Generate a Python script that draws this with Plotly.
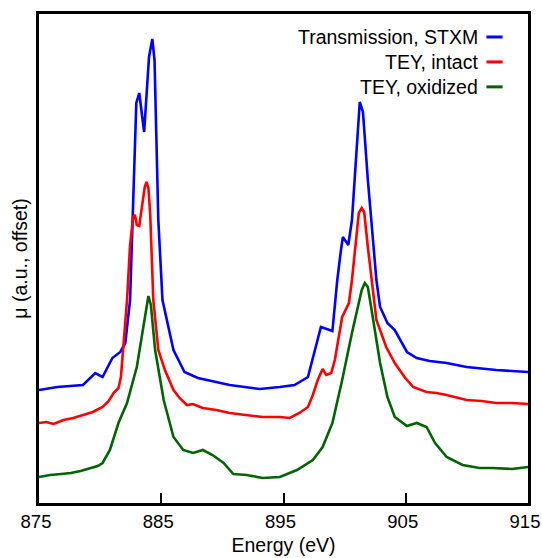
import plotly.graph_objects as go

# ---- data (energy in eV, intensity in a.u. with offsets) ----
stxm_E = [875.0, 876.5, 878.6, 879.6, 880.2, 881.0, 881.65, 882.06, 882.45, 882.7,
          882.96, 883.2, 883.6, 884.0, 884.27, 884.45, 884.76, 885.1, 886.0, 886.9,
          888.0, 890.6, 893.05, 894.7, 895.9, 897.0, 898.06, 899.0, 899.4, 899.7,
          899.86, 900.3, 900.6, 901.24, 901.5, 901.9, 902.6, 902.9, 903.5, 904.1,
          905.1, 905.9, 906.96, 908.35, 909.98, 912.4, 915.0]
stxm_px = [390, 387, 385, 373, 377, 358, 352, 343, 300, 213,
           103, 93, 132, 57, 39, 60, 220, 300, 350, 372,
           378, 385, 389, 387, 385, 377, 327, 331, 280, 250,
           237, 245, 220, 102, 112, 180, 280, 307, 323, 330,
           352, 358, 361, 363, 367, 370, 372]

intact_E = [875.0, 875.6, 876.2, 877.0, 877.8, 878.6, 879.4, 880.2, 880.7, 881.1,
            881.5, 881.7, 881.9, 882.2, 882.45, 882.7, 882.85, 883.0, 883.2, 883.45,
            883.65, 883.8, 883.95, 884.1, 884.35, 884.76, 885.3, 886.0, 886.5, 887.1,
            887.6, 888.4, 889.5, 890.6, 892.0, 893.3, 894.7, 895.5, 896.3, 897.0,
            897.4, 897.8, 898.2, 898.5, 898.9, 899.2, 899.8, 900.35, 900.6, 901.16,
            901.4, 901.6, 901.9, 902.2, 902.6, 903.4, 904.1, 904.9, 905.6, 906.7,
            907.5, 908.35, 909.98, 911.2, 912.4, 913.7, 915.0]
intact_px = [423, 422, 424, 420, 418, 415, 412, 407, 401, 393,
             388, 377, 343, 300, 245, 217, 215, 225, 226, 205,
             187, 182, 188, 215, 300, 350, 370, 390, 398, 405,
             404, 408, 410, 413, 415, 417, 417, 418, 413, 407,
             395, 380, 369, 375, 373, 360, 317, 303, 280, 213,
             208, 212, 247, 280, 320, 347, 363, 377, 387, 392,
             393, 395, 400, 401, 403, 403, 404]

oxid_E = [875.0, 875.9, 876.8, 877.6, 878.4, 879.2, 879.8, 880.2, 880.8, 881.5,
          882.2, 883.0, 883.65, 883.95, 884.15, 884.5, 885.2, 886.0, 886.8, 887.6,
          888.4, 889.2, 890.1, 890.9, 892.0, 893.3, 894.7, 896.1, 897.4, 898.2,
          899.0, 899.8, 900.6, 901.4, 901.65, 901.9, 902.3, 902.9, 903.5, 904.1,
          905.1, 905.9, 906.7, 907.4, 908.35, 909.65, 911.04, 912.1, 913.7, 915.0]
oxid_px = [477, 475, 474, 473, 471, 468, 466, 463, 450, 423,
           403, 367, 317, 296, 305, 350, 400, 437, 450, 453,
           450, 455, 463, 474, 475, 478, 477, 470, 460, 447,
           423, 380, 333, 290, 283, 287, 317, 363, 397, 417,
           426, 423, 427, 443, 457, 465, 468, 468, 469, 467]

names = ["Transmission, STXM", "TEY, intact", "TEY, oxidized"]
colors = ["#0000ff", "#ff0000", "#006400"]
x_ticks = [875, 885, 895, 905, 915]


def to_au(px):
    return [(503 - p) / 100.0 for p in px]


series = [(stxm_E, stxm_px), (intact_E, intact_px), (oxid_E, oxid_px)]

FONT = "Liberation Sans, Arial, sans-serif"
FS = 19.5

fig = go.Figure()
for (e, p), n, c in zip(series, names, colors):
    fig.add_trace(go.Scatter(x=e, y=to_au(p), mode="lines", name=n,
                             line=dict(color=c, width=2.6), showlegend=False,
                             hoverinfo="skip"))

# manual legend: text right-aligned, line sample to the right
leg_y = [0.953, 0.902, 0.851]
for n, c, yy in zip(names, colors, leg_y):
    fig.add_annotation(x=0.901, y=yy, xref="paper", yref="paper", text=n,
                       showarrow=False, xanchor="right", yanchor="middle",
                       font=dict(family=FONT, size=FS, color="black"))
    fig.add_shape(type="line", xref="paper", yref="paper",
                  x0=0.915, x1=0.948, y0=yy, y1=yy,
                  line=dict(color=c, width=3))

fig.update_layout(
    width=542, height=558,
    margin=dict(l=38.5, r=13.5, t=14, b=55),
    paper_bgcolor="white", plot_bgcolor="white",
    font=dict(family=FONT, size=FS, color="black"),
)
fig.update_xaxes(range=[875, 915], tickvals=x_ticks, ticktext=[str(v) for v in x_ticks],
                 ticks="inside", ticklen=10, tickwidth=2, tickcolor="black",
                 ticklabeloverflow="allow", automargin=False, ticklabelshift=-3,
                 showline=True, linewidth=2.5, linecolor="black", mirror=True,
                 showgrid=False, zeroline=False,
                 title=dict(text="Energy (eV)", standoff=8,
                            font=dict(family=FONT, size=FS)),
                 tickfont=dict(family=FONT, size=18.5))
fig.update_yaxes(range=[0, 4.89], showticklabels=False, ticks="", automargin=False,
                 showline=True, linewidth=2.5, linecolor="black", mirror=True,
                 showgrid=False, zeroline=False,
                 title=dict(text="μ (a.u., offset)", standoff=4,
                            font=dict(family=FONT, size=FS)))

# remove the default 8px body margin so the figure fills the window exactly
fig.write_html("out.html",
               config={"displayModeBar": False},
               post_script="document.body.style.margin='0';document.body.style.overflow='hidden';")
